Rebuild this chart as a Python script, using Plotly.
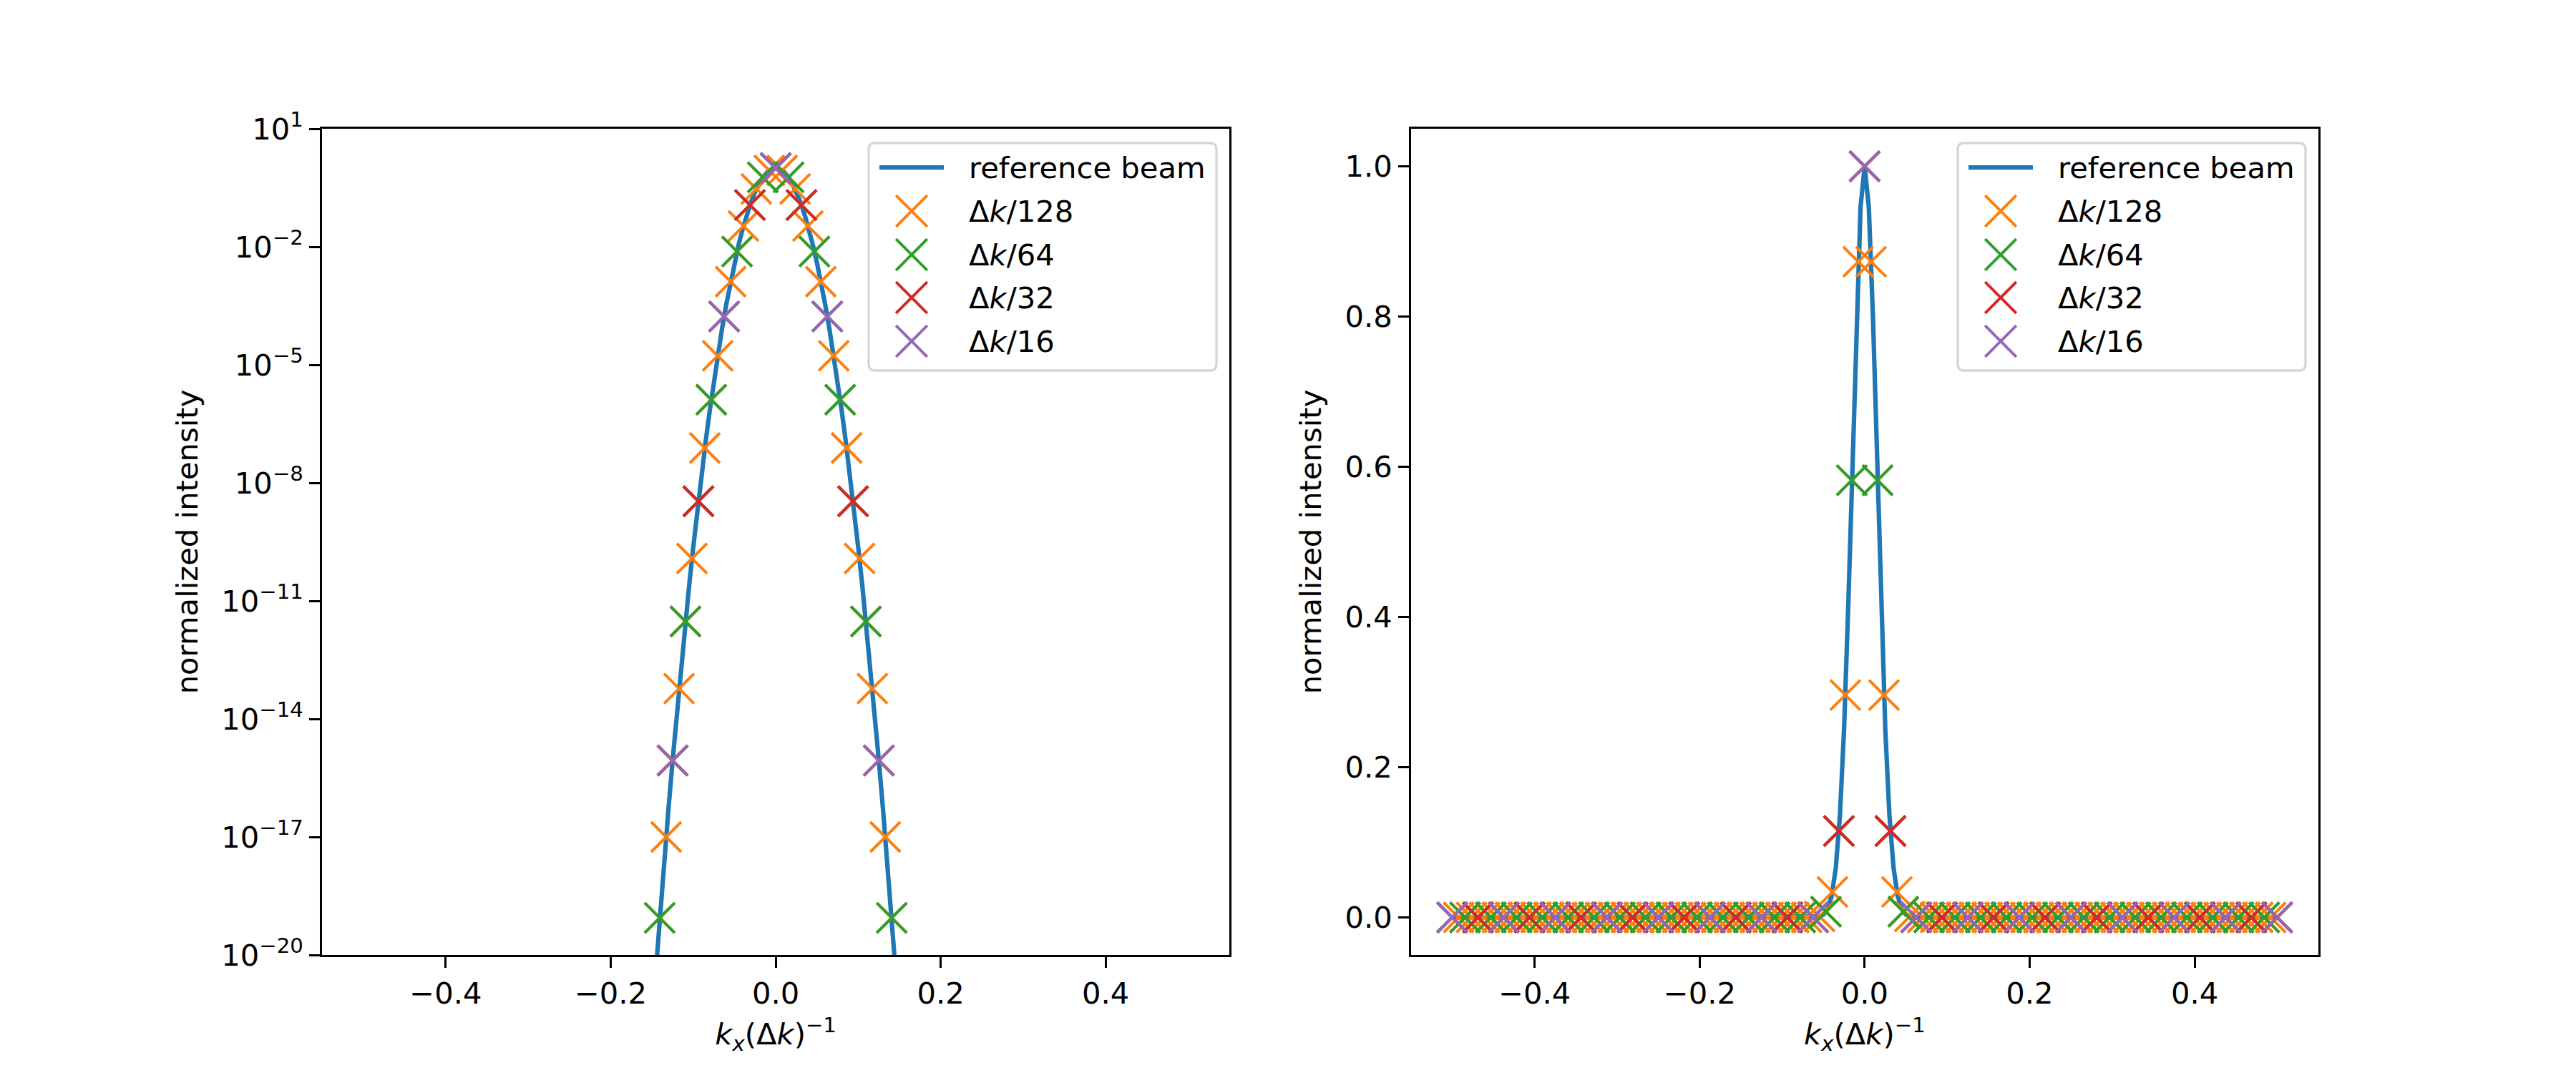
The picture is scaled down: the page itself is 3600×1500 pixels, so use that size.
import numpy as np
import plotly.graph_objects as go

# %%
# reference beam (k in units of Δk)
k_ref = [-0.5] + [round(v, 4) for v in np.linspace(-0.15, 0.15, 61)] + [0.5]
i_ref_half = [1.0, 0.946, 0.801, 0.607, 0.412, 0.250, 0.136, 0.066, 0.0287, 0.0112,
              3.9e-3, 1.22e-3, 3.4e-4, 8.5e-5, 1.9e-5, 3.8e-6, 6.8e-7, 1.09e-7,
              1.57e-8, 2.0e-9, 2.3e-10, 2.4e-11, 2.2e-12, 1.8e-13, 1.34e-14,
              8.8e-16, 5.2e-17, 2.8e-18, 1.3e-19, 5.5e-21, 2.1e-22]
i_ref = [0.0] + i_ref_half[:0:-1] + i_ref_half + [0.0]

# sampled intensities near the centre, outside these they are ~0
i_128_core = [8.8e-20, 1.0e-17, 8.8e-16, 5.9e-14, 3.0e-12, 1.2e-10, 3.4e-9, 7.7e-8,
              1.3e-6, 1.7e-5, 1.7e-4, 1.3e-3, 7.6e-3, 0.0339, 0.115, 0.296, 0.582,
              0.873, 1.0,
              0.873, 0.582, 0.296, 0.115, 0.0339, 7.6e-3, 1.3e-3, 1.7e-4, 1.7e-5,
              1.3e-6, 7.7e-8, 3.4e-9, 1.2e-10, 3.0e-12, 5.9e-14, 8.8e-16, 1.0e-17,
              8.8e-20]
i_64_core = [8.8e-20, 8.8e-16, 3.0e-12, 3.4e-9, 1.3e-6, 1.7e-4, 7.6e-3, 0.115, 0.582,
             1.0,
             0.582, 0.115, 7.6e-3, 1.7e-4, 1.3e-6, 3.4e-9, 3.0e-12, 8.8e-16, 8.8e-20]
i_32_core = [8.8e-16, 3.4e-9, 1.7e-4, 0.115, 1.0, 0.115, 1.7e-4, 3.4e-9, 8.8e-16]
i_16_core = [8.8e-16, 1.7e-4, 1.0, 1.7e-4, 8.8e-16]

samplings = [128, 64, 32, 16]
cores = [i_128_core, i_64_core, i_32_core, i_16_core]
labels = ['Δ<i>k</i>/128', 'Δ<i>k</i>/64', 'Δ<i>k</i>/32', 'Δ<i>k</i>/16']
colors = ['#ff7f0e', '#2ca02c', '#d62728', '#9467bd']
ref_color = '#1f77b4'

xticks = [-0.4, -0.2, 0.0, 0.2, 0.4]
xtick_text = ['−0.4', '−0.2', '0.0', '0.2', '0.4']
log_ticks = [1, -2, -5, -8, -11, -14, -17, -20]
lin_ticks = [0.0, 0.2, 0.4, 0.6, 0.8, 1.0]


def sampled(n, core):
    k = np.arange(-n // 2, n // 2 + 1) / n
    vals = np.zeros(len(k))
    h = len(core) // 2
    mid = n // 2
    vals[mid - h:mid + h + 1] = core
    return k, vals


# %%
W, H = 3600, 1500
FS = 41.7
font = dict(family='DejaVu Sans', size=FS, color='black')
fig = go.Figure()

for col, (xa, ya) in enumerate([('x', 'y'), ('x2', 'y2')]):
    if col == 0:
        kx = [k for k, v in zip(k_ref, i_ref) if v > 0]
        iy = [v for v in i_ref if v > 0]
    else:
        kx, iy = k_ref, i_ref
    fig.add_trace(go.Scatter(
        x=kx, y=iy, mode='lines', name='reference beam',
        line=dict(color=ref_color, width=6.25),
        xaxis=xa, yaxis=ya, showlegend=False
    ))
    for n, core, lab, c in zip(samplings, cores, labels, colors):
        k, v = sampled(n, core)
        if col == 0:
            k, v = k[v > 0], v[v > 0]
        fig.add_trace(go.Scatter(
            x=k, y=v, mode='markers', name=lab,
            marker=dict(symbol='x-thin', size=42, color=c,
                        line=dict(color=c, width=4)),
            xaxis=xa, yaxis=ya, showlegend=False
        ))


# %%
# matplotlib-style legend boxes, built from shapes + annotations
def px(x):
    return x / W


def py(y):
    return 1 - y / H


shapes, annotations = [], []
for dx in [0, 1522]:
    x0, x1, y0, y1, r = 1214 + dx, 1700 + dx, 200, 518, 9
    path = (f'M{px(x0 + r)},{py(y0)} L{px(x1 - r)},{py(y0)} '
            f'Q{px(x1)},{py(y0)} {px(x1)},{py(y0 + r)} '
            f'L{px(x1)},{py(y1 - r)} Q{px(x1)},{py(y1)} {px(x1 - r)},{py(y1)} '
            f'L{px(x0 + r)},{py(y1)} Q{px(x0)},{py(y1)} {px(x0)},{py(y1 - r)} '
            f'L{px(x0)},{py(y0 + r)} Q{px(x0)},{py(y0)} {px(x0 + r)},{py(y0)} Z')
    shapes.append(dict(type='path', xref='paper', yref='paper', path=path,
                       fillcolor='rgba(255,255,255,0.8)',
                       line=dict(color='rgba(204,204,204,0.8)', width=3.3)))
    rows = [234, 295, 356, 416, 477]
    shapes.append(dict(type='line', xref='paper', yref='paper',
                       x0=px(1229 + dx), x1=px(1319 + dx), y0=py(rows[0]), y1=py(rows[0]),
                       line=dict(color=ref_color, width=6.25)))
    annotations.append(dict(text='reference beam', x=px(1352 + dx), y=py(rows[0]),
                            xref='paper', yref='paper', xanchor='left', yanchor='middle',
                            showarrow=False, font=font))
    cx, hs = 1274 + dx, 21.8
    for row, lab, c in zip(rows[1:], labels, colors):
        for sgn in [1, -1]:
            shapes.append(dict(type='line', xref='paper', yref='paper',
                               x0=px(cx - hs), x1=px(cx + hs),
                               y0=py(row - sgn * hs), y1=py(row + sgn * hs),
                               line=dict(color=c, width=4)))
        annotations.append(dict(text=lab, x=px(1352 + dx), y=py(row),
                                xref='paper', yref='paper', xanchor='left',
                                yanchor='middle', showarrow=False, font=font))

axis_style = dict(
    showline=True, mirror=True, linecolor='black', linewidth=3.3,
    ticks='outside', ticklen=14.6, tickwidth=3.3, tickcolor='black',
    showgrid=False, zeroline=False, tickfont=font, automargin=False,
)

xtitle = '<i>k</i><sub><i>x</i></sub>(Δ<i>k</i>)<sup>−1</sup>'

fig.update_layout(
    template='none',
    width=W, height=H,
    margin=dict(l=0, r=0, t=0, b=0, autoexpand=False),
    paper_bgcolor='white', plot_bgcolor='white',
    font=font, showlegend=False,
    shapes=shapes, annotations=annotations,
    xaxis=dict(domain=[0.125, 0.47727], range=[-0.55, 0.55], anchor='y',
               tickvals=xticks, ticktext=xtick_text,
               title=dict(text=xtitle, font=font, standoff=20), **axis_style),
    yaxis=dict(domain=[0.11, 0.88], type='log', range=[-20, 1], anchor='x',
               tickvals=[10.0 ** p for p in log_ticks],
               ticktext=[f'10<sup>{str(p).replace("-", "−")}</sup>' for p in log_ticks],
               title=dict(text='normalized intensity', font=font, standoff=20),
               **axis_style),
    xaxis2=dict(domain=[0.54773, 0.9], range=[-0.55, 0.55], anchor='y2',
                tickvals=xticks, ticktext=xtick_text,
                title=dict(text=xtitle, font=font, standoff=20), **axis_style),
    yaxis2=dict(domain=[0.11, 0.88], range=[-0.05, 1.05], anchor='x2',
                tickvals=lin_ticks, ticktext=[f'{v:.1f}' for v in lin_ticks],
                title=dict(text='normalized intensity', font=font, standoff=20),
                **axis_style),
)

# drop the browser's default page margin so the figure sits at (0, 0)
fig.write_html('out.html', config={'displayModeBar': False},
               post_script="document.body.style.margin='0';")
